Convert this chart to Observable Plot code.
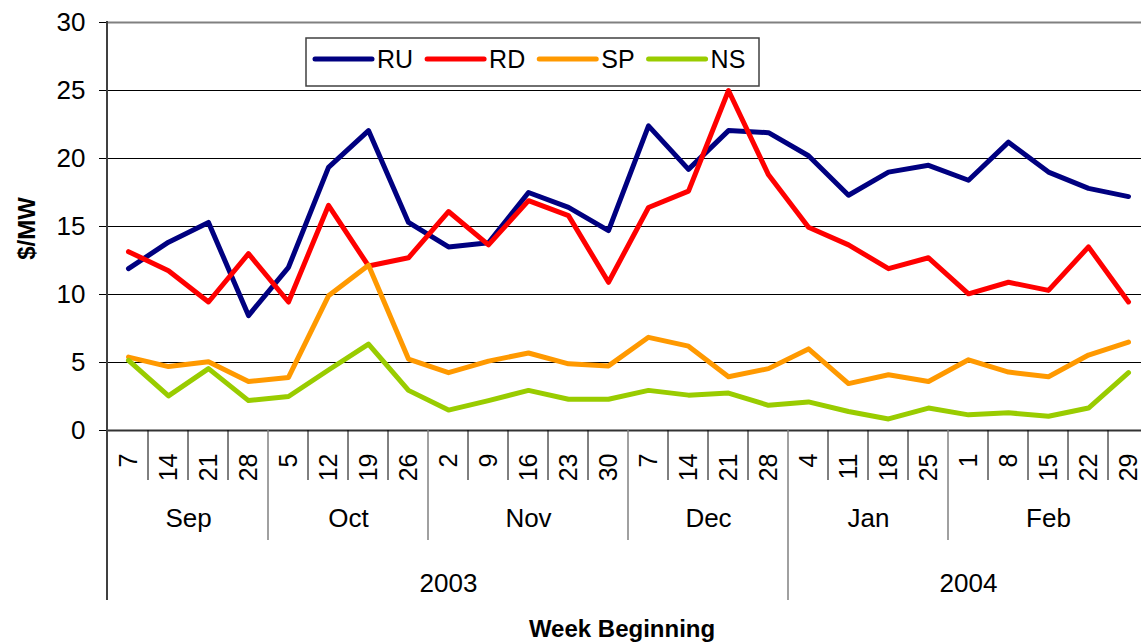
<!DOCTYPE html>
<html><head><meta charset="utf-8">
<script src="https://cdn.jsdelivr.net/npm/d3@7"></script>
<script src="https://cdn.jsdelivr.net/npm/@observablehq/plot@0.6"></script>
<style>
html,body{margin:0;padding:0;background:#fff;overflow:hidden}
#chart{width:1141px;height:644px}
</style>
</head><body><div id="chart"></div>
<script>
// ---- data ----
const weeks = ["7","14","21","28","5","12","19","26","2","9","16","23","30","7","14","21","28","4","11","18","25","1","8","15","22","29"];
const months = ["Sep","Oct","Nov","Dec","Jan","Feb"];
const monthWeeks = [4,4,5,4,4,5];
const years = ["2003","2004"];
const yearWeeks = [17,9];
const seriesNames = ["RU","RD","SP","NS"];
const seriesColors = ["#000080","#FF0000","#FF9900","#99CC00"];
const RU = [11.9,13.85,15.3,8.45,12.0,19.35,22.05,15.3,13.5,13.8,17.5,16.4,14.7,22.4,19.2,22.05,21.9,20.2,17.3,19.0,19.5,18.4,21.2,19.0,17.8,17.2];
const RD = [13.15,11.75,9.45,13.0,9.45,16.55,12.1,12.7,16.1,13.65,16.9,15.8,10.9,16.4,17.6,25.0,18.8,14.95,13.65,11.9,12.7,10.05,10.9,10.3,13.5,9.45];
const SP = [5.4,4.7,5.05,3.6,3.9,9.9,12.15,5.25,4.25,5.1,5.7,4.9,4.75,6.85,6.2,3.95,4.55,6.0,3.45,4.1,3.6,5.2,4.3,3.95,5.55,6.5];
const NS = [5.15,2.55,4.55,2.2,2.5,4.45,6.35,2.95,1.5,2.2,2.95,2.3,2.3,2.95,2.6,2.75,1.85,2.1,1.4,0.85,1.65,1.15,1.3,1.05,1.65,4.25];
const yTicks = [0,5,10,15,20,25,30];
const yLabel = "$/MW";
const xLabel = "Week Beginning";

// ---- derived tables ----
const seriesValues = {RU, RD, SP, NS};
const rows = seriesNames.flatMap(s => seriesValues[s].map((v, i) => ({series: s, i, v})));
function groups(labels, counts) {
  let start = 0;
  return labels.map((label, k) => { const g = {label, start, end: start + counts[k]}; start += counts[k]; return g; });
}
const monthGroups = groups(months, monthWeeks);
const yearGroups = groups(years, yearWeeks);

const font = "'Liberation Sans', Arial, sans-serif";

const chart = Plot.plot({
  width: 1141, height: 644,
  marginLeft: 108, marginRight: 0, marginTop: 22, marginBottom: 214,
  style: {fontFamily: font, fontSize: "25px", color: "#000", background: "#fff", overflow: "hidden"},
  x: {domain: [-0.5, weeks.length - 0.5], range: [108, 1148], axis: null},
  y: {domain: [0, 30], ticks: yTicks, tickSize: 9, tickPadding: 14, label: null},
  color: {domain: seriesNames, range: seriesColors},
  marks: [
    Plot.ruleY(yTicks.filter(t => t > 0 && t < 30), {stroke: "#000", strokeWidth: 1}),
    Plot.ruleY([30], {stroke: "#808080", strokeWidth: 2}),
    Plot.line(rows, {x: "i", y: "v", z: "series", stroke: "series", strokeWidth: 5,
      strokeLinejoin: "round", strokeLinecap: "round"}),
    Plot.ruleY([0], {stroke: "#333", strokeWidth: 2}),
    Plot.text(weeks, {x: (d, i) => i, text: d => d, frameAnchor: "bottom", dy: 23,
      rotate: -90, textAnchor: "end", lineAnchor: "middle", fontSize: 25}),
    Plot.text(monthGroups, {x: g => (g.start + g.end - 1) / 2, text: "label", frameAnchor: "bottom",
      dy: 88, lineAnchor: "middle", textAnchor: "middle", fontSize: 26}),
    Plot.text(yearGroups, {x: g => (g.start + g.end - 1) / 2, text: "label", frameAnchor: "bottom",
      dy: 153, lineAnchor: "middle", textAnchor: "middle", fontSize: 26}),
    Plot.text([yLabel], {frameAnchor: "left", dx: -81, dy: 2, rotate: -90, textAnchor: "middle",
      lineAnchor: "middle", fontWeight: "bold", fontSize: 24}),
    Plot.text([xLabel], {frameAnchor: "bottom", dy: 199, dx: -3, textAnchor: "middle",
      lineAnchor: "middle", fontWeight: "bold", fontSize: 24})
  ]
});
document.getElementById("chart").appendChild(chart);

const svg = d3.select(chart);
// y tick labels at the reference size
svg.selectAll("g[aria-label^='y-axis'] text").attr("font-size", 26).style("font-size", "26px");

// ---- category axis separators & y-axis line, positioned through Plot's scales ----
const xs = chart.scale("x").apply, ys = chart.scale("y").apply;
const y0 = ys(0);
const sep = svg.append("g");
const monthStarts = new Set(monthGroups.map(g => g.start));
const yearStarts = new Set(yearGroups.map(g => g.start).concat([weeks.length]));
for (let i = 1; i <= weeks.length; i++) {
  let len = 50, color = "#000", w = 1;
  if (yearStarts.has(i)) { len = 170; color = "#808080"; w = 1.5; }
  else if (monthStarts.has(i)) { len = 110; color = "#808080"; w = 1.5; }
  sep.append("line").attr("x1", xs(i - 0.5)).attr("x2", xs(i - 0.5))
    .attr("y1", y0).attr("y2", y0 + len).attr("stroke", color).attr("stroke-width", w);
}
sep.append("line").attr("x1", xs(-0.5) - 1).attr("x2", xs(-0.5) - 1)
  .attr("y1", ys(30) - 1).attr("y2", y0 + 170).attr("stroke", "#404040").attr("stroke-width", 2);

// ---- legend box ----
const lg = svg.append("g").attr("font-family", font).attr("font-size", 25).attr("text-anchor", "start");
lg.append("rect").attr("x", 306).attr("y", 38).attr("width", 453).attr("height", 48)
  .attr("fill", "#fff").attr("stroke", "#404040").attr("stroke-width", 1.5);
let lx = 315;
seriesNames.forEach((s, k) => {
  lg.append("line").attr("x1", lx).attr("x2", lx + 57).attr("y1", 59).attr("y2", 59)
    .attr("stroke", seriesColors[k]).attr("stroke-width", 5).attr("stroke-linecap", "round");
  const t = lg.append("text").attr("x", lx + 62).attr("y", 59).attr("dy", "0.35em")
    .attr("text-anchor", "start").text(s);
  lx += 62 + t.node().getComputedTextLength() + 14;
});
</script>
</body></html>
